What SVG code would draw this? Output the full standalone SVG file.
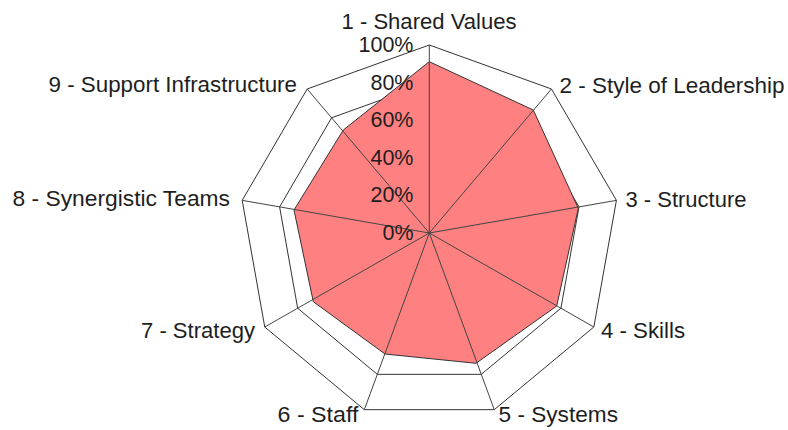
<svg xmlns="http://www.w3.org/2000/svg" width="788" height="430" viewBox="0 0 788 430">
<style>
.ring{fill:none;stroke:#333;stroke-width:1}
.spoke{stroke:#444;stroke-width:1}
.data{fill:#FF8080;stroke:#333;stroke-width:1;stroke-linejoin:round}
.lbl{font-family:"Liberation Sans",Arial,sans-serif;font-size:21.5px;fill:#1e1e1e}
.pct{font-family:"Liberation Sans",Arial,sans-serif;font-size:21.5px;fill:#1e1e1e;text-anchor:end}
</style>
<rect width="788" height="430" fill="#fff"/>
<g id="grid">
<polygon class="ring" points="429.3,45 551.43,88.99 616.41,200.36 593.84,327 494.28,409.66 364.32,409.66 264.76,327 242.19,200.36 307.17,88.99"/>
<polygon class="ring" points="429.3,82.6 527,117.79 578.99,206.89 560.93,308.2 481.28,374.33 377.32,374.33 297.67,308.2 279.61,206.89 331.6,117.79"/>
<polygon class="ring" points="429.3,120.2 502.58,146.59 541.57,213.42 528.02,289.4 468.29,339 390.31,339 330.58,289.4 317.03,213.42 356.02,146.59"/>
<polygon class="ring" points="429.3,157.8 478.15,175.4 504.14,219.94 495.12,270.6 455.29,303.66 403.31,303.66 363.48,270.6 354.46,219.94 380.45,175.4"/>
<polygon class="ring" points="429.3,195.4 453.73,204.2 466.72,226.47 462.21,251.8 442.3,268.33 416.3,268.33 396.39,251.8 391.88,226.47 404.87,204.2"/>
</g>
<g id="series">
<polygon class="data" points="429.3,61.7 533.3,110 578.3,208.3 556.7,306 476,363.3 385,354 313.3,301.7 294,210 343.3,130"/>
</g>
<g id="connectors">
<line class="spoke" x1="429.3" y1="233" x2="429.3" y2="45"/>
<line class="spoke" x1="429.3" y1="233" x2="551.43" y2="88.99"/>
<line class="spoke" x1="429.3" y1="233" x2="616.41" y2="200.36"/>
<line class="spoke" x1="429.3" y1="233" x2="593.84" y2="327"/>
<line class="spoke" x1="429.3" y1="233" x2="494.28" y2="409.66"/>
<line class="spoke" x1="429.3" y1="233" x2="364.32" y2="409.66"/>
<line class="spoke" x1="429.3" y1="233" x2="264.76" y2="327"/>
<line class="spoke" x1="429.3" y1="233" x2="242.19" y2="200.36"/>
<line class="spoke" x1="429.3" y1="233" x2="307.17" y2="88.99"/>
</g>
<g id="scale">
<text class="pct" x="413.5" y="52">100%</text>
<text class="pct" x="413.5" y="89.5">80%</text>
<text class="pct" x="413.5" y="127">60%</text>
<text class="pct" x="413.5" y="165">40%</text>
<text class="pct" x="413.5" y="202.3">20%</text>
<text class="pct" x="413.5" y="240">0%</text>
</g>
<g id="axis1"><text class="lbl" x="341.5" y="28.5" textLength="175" lengthAdjust="spacingAndGlyphs">1 - Shared Values</text></g>
<g id="axis2"><text class="lbl" x="559.5" y="92.5" textLength="225" lengthAdjust="spacingAndGlyphs">2 - Style of Leadership</text></g>
<g id="axis3"><text class="lbl" x="625.5" y="207" textLength="121" lengthAdjust="spacingAndGlyphs">3 - Structure</text></g>
<g id="axis4"><text class="lbl" x="601" y="337.5" textLength="84" lengthAdjust="spacingAndGlyphs">4 - Skills</text></g>
<g id="axis5"><text class="lbl" x="498.5" y="422" textLength="119.5" lengthAdjust="spacingAndGlyphs">5 - Systems</text></g>
<g id="axis6"><text class="lbl" x="277.5" y="422" textLength="81" lengthAdjust="spacingAndGlyphs">6 - Staff</text></g>
<g id="axis7"><text class="lbl" x="141" y="338" textLength="114" lengthAdjust="spacingAndGlyphs">7 - Strategy</text></g>
<g id="axis8"><text class="lbl" x="12.5" y="206" textLength="217.5" lengthAdjust="spacingAndGlyphs">8 - Synergistic Teams</text></g>
<g id="axis9"><text class="lbl" x="48.5" y="91.5" textLength="248.5" lengthAdjust="spacingAndGlyphs">9 - Support Infrastructure</text></g>
</svg>
